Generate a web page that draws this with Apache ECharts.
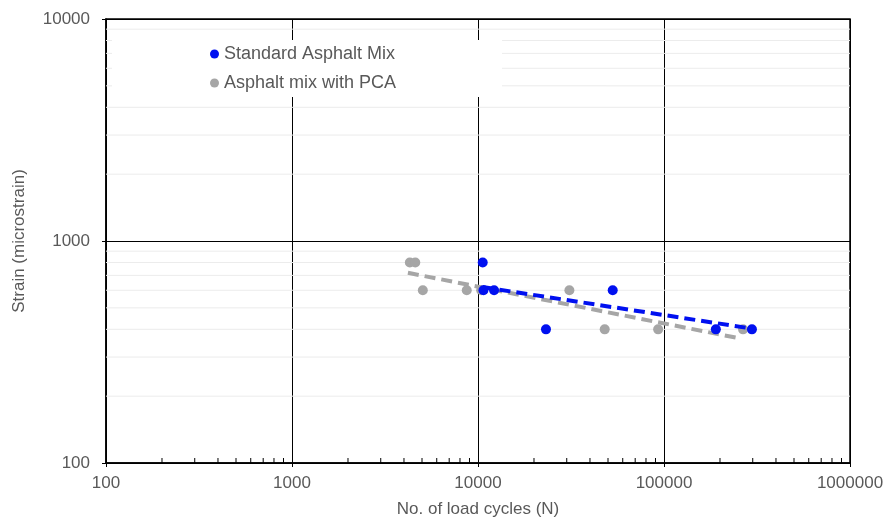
<!DOCTYPE html>
<html>
<head>
<meta charset="utf-8">
<title>Strain vs load cycles</title>
<script src="https://cdn.jsdelivr.net/npm/echarts@6/dist/echarts.min.js"></script>
<style>
  html, body { margin: 0; padding: 0; background: #fff; }
  #chart { width: 890px; height: 523px; }
</style>
</head>
<body>
<div id="chart"></div>
<script>
// 数据：疲劳试验 荷载次数 vs 应变
const seriesNames = ['Standard Asphalt Mix', 'Asphalt mix with PCA'];

const standardMix = [
  [10600, 800], [10700, 600], [12200, 600], [23200, 400],
  [53000, 600], [190000, 400], [297000, 400]
];
const pcaMix = [
  [4300, 800], [4600, 800], [5050, 600], [8700, 600], [10400, 600],
  [31000, 600], [48000, 400], [93000, 400], [266000, 400]
];

// 趋势线（幂函数，双对数坐标下为直线）两端点
const standardTrend = [[10600, 620], [297000, 403]];
const pcaTrend = [[4200, 719], [256000, 364]];

// 次刻度位置 (2..9 × 10^n)
const decadesX = [100, 1000, 10000, 100000];
const decadesY = [100, 1000];
const minorSteps = [2, 3, 4, 5, 6, 7, 8, 9];

const minorX = [];
decadesX.forEach(function (d) { minorSteps.forEach(function (s) { minorX.push(d * s); }); });
const minorY = [];
decadesY.forEach(function (d) { minorSteps.forEach(function (s) { minorY.push(d * s); }); });

const FONT = '"Liberation Sans", Arial, sans-serif';
const GREY_TEXT = '#595959';
const BLUE = '#0010f0';
const GREY = '#a6a6a6';

const myChart = echarts.init(document.getElementById('chart'));

const option = {
  animation: false,
  backgroundColor: '#fff',
  textStyle: { fontFamily: FONT },
  grid: {
    left: 106, right: 40, top: 19, bottom: 57,
    show: true, borderColor: '#000', borderWidth: 1.5
  },
  legend: {
    data: seriesNames,
    orient: 'vertical',
    left: 112, top: 40,
    padding: [4, 106, 4, 98],
    itemGap: 9,
    itemWidth: 9, itemHeight: 9,
    icon: 'circle',
    backgroundColor: '#fff',
    textStyle: { fontFamily: FONT, fontSize: 18, color: GREY_TEXT, lineHeight: 20 }
  },
  xAxis: {
    type: 'log',
    logBase: 10,
    min: 100, max: 1000000,
    interval: 1,
    name: 'No. of load cycles (N)',
    nameLocation: 'middle',
    nameGap: 38,
    nameTextStyle: { fontFamily: FONT, fontSize: 17, color: GREY_TEXT },
    axisLine: { show: true, onZero: false, lineStyle: { color: '#000', width: 1.5 } },
    axisTick: { show: true, inside: false, length: 4, lineStyle: { color: '#000' } },
    axisLabel: { fontFamily: FONT, fontSize: 17, color: GREY_TEXT, margin: 12, formatter: function (v) { return String(Math.round(v)); } },
    splitLine: { show: true, lineStyle: { color: '#000', width: 1 } },
    minorTick: { show: false },
    minorSplitLine: { show: false }
  },
  yAxis: {
    type: 'log',
    logBase: 10,
    min: 100, max: 10000,
    interval: 1,
    name: 'Strain (microstrain)',
    nameLocation: 'middle',
    nameGap: 78,
    nameTextStyle: { fontFamily: FONT, fontSize: 17, color: GREY_TEXT },
    axisLine: { show: true, onZero: false, lineStyle: { color: '#000', width: 1.5 } },
    axisTick: { show: true, inside: false, length: 4, lineStyle: { color: '#000' } },
    axisLabel: { fontFamily: FONT, fontSize: 17, color: GREY_TEXT, margin: 16, formatter: function (v) { return String(Math.round(v)); } },
    splitLine: { show: true, lineStyle: { color: '#000', width: 1 } },
    minorTick: { show: false },
    minorSplitLine: { show: false }
  },
  series: [
    {
      // 次网格线（Y）
      type: 'custom',
      silent: true,
      z: 1,
      data: minorY.map(function (v) { return [100, v]; }),
      renderItem: function (params, api) {
        const a = api.coord([100, api.value(1)]);
        const b = api.coord([1000000, api.value(1)]);
        return {
          type: 'line',
          shape: { x1: a[0], y1: a[1], x2: b[0], y2: b[1] },
          style: { stroke: '#ececec', lineWidth: 1 }
        };
      }
    },
    {
      // X 轴次刻度（朝内）
      type: 'custom',
      silent: true,
      z: 3,
      data: minorX.map(function (v) { return [v, 100]; }),
      renderItem: function (params, api) {
        const a = api.coord([api.value(0), 100]);
        return {
          type: 'line',
          shape: { x1: a[0], y1: a[1], x2: a[0], y2: a[1] - 5 },
          style: { stroke: '#000', lineWidth: 1 }
        };
      }
    },
    {
      name: 'PCA trend',
      type: 'line',
      data: pcaTrend,
      symbol: 'none',
      z: 4,
      lineStyle: { color: GREY, width: 4, type: [11, 6] }
    },
    {
      name: seriesNames[1],
      type: 'scatter',
      data: pcaMix,
      symbol: 'circle',
      symbolSize: 10,
      z: 5,
      itemStyle: { color: GREY, opacity: 1 }
    },
    {
      name: 'Standard trend',
      type: 'line',
      data: standardTrend,
      symbol: 'none',
      z: 6,
      lineStyle: { color: BLUE, width: 4, type: [11, 6] }
    },
    {
      name: seriesNames[0],
      type: 'scatter',
      data: standardMix,
      symbol: 'circle',
      symbolSize: 10,
      z: 7,
      itemStyle: { color: BLUE, opacity: 1 }
    }
  ]
};

myChart.setOption(option);
</script>
</body>
</html>
